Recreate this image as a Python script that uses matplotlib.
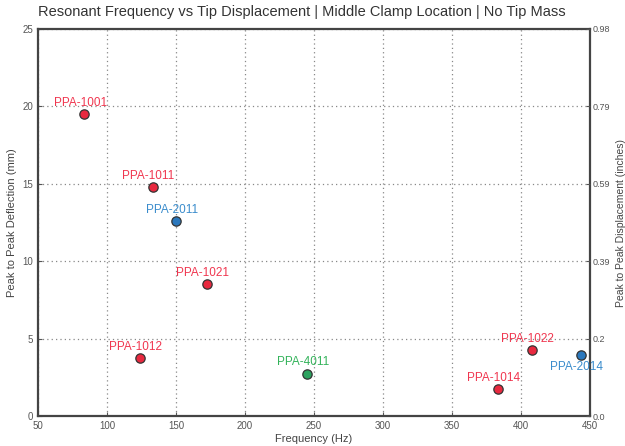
import matplotlib.pyplot as plt
from matplotlib.ticker import FixedLocator, FixedFormatter

names = ["PPA-1001", "PPA-1011", "PPA-2011", "PPA-1021", "PPA-1012",
         "PPA-4011", "PPA-1014", "PPA-1022", "PPA-2014"]
freq = [83.5, 133, 150, 172.5, 123.5, 245, 383, 408, 443.5]
defl = [19.5, 14.8, 12.6, 8.5, 3.75, 2.75, 1.75, 4.25, 3.95]
family = ["1", "1", "2", "1", "1", "4", "1", "1", "2"]

face = {"1": "#e8293f", "2": "#2b78bd", "4": "#2ca25f"}
text_col = {"1": "#f0364f", "2": "#3a8ccc", "4": "#33b35a"}

plt.rcParams['font.family'] = ['Liberation Sans', 'DejaVu Sans']

fig = plt.figure(figsize=(6.25, 4.46), dpi=100)
ax = fig.add_axes([0.061, 0.067, 0.883, 0.868])

for n, f, d, fam in zip(names, freq, defl, family):
    ax.scatter(f, d, s=45, color=face[fam], edgecolor="#333333", linewidth=0.9, zorder=3)
    dy = -9 if n == "PPA-2014" else 8
    ax.annotate(n, (f, d), xytext=(-3, dy), textcoords="offset points",
                ha="center", va="center", color=text_col[fam], fontsize=8.5)

ax.set_xlim(50, 450)
ax.set_ylim(0, 25)
ax.set_xticks(range(50, 451, 50))
ax.set_yticks(range(0, 26, 5))
ax.grid(True, linestyle=(0, (1, 2.5)), color="#888888", linewidth=0.9)
ax.tick_params(labelsize=7, colors="#555555", length=3, direction="in")
for s in ax.spines.values():
    s.set_color("#444444")
    s.set_linewidth(1.6)
ax.set_xlabel("Frequency (Hz)", fontsize=8, color="#444444", labelpad=2)
fig.text(0.02, 0.50, "Peak to Peak Deflection (mm)", rotation=90,
         fontsize=8, color="#444444", ha="center", va="center")

mm_ticks = list(range(0, 26, 5))
inch_labels = [str(round(v / 25.4, 2)) for v in mm_ticks]
ax2 = ax.twinx()
ax2.set_ylim(0, 25)
ax2.yaxis.set_major_locator(FixedLocator(mm_ticks))
ax2.yaxis.set_major_formatter(FixedFormatter(inch_labels))
ax2.tick_params(labelsize=6.5, colors="#555555", length=3, direction="in", pad=2)
for s in ax2.spines.values():
    s.set_visible(False)
fig.text(0.994, 0.50, "Peak to Peak Displacement (inches)", rotation=90,
         fontsize=7.5, color="#444444", ha="center", va="center")

fig.text(0.061, 0.958, "Resonant Frequency vs Tip Displacement | Middle Clamp Location | No Tip Mass",
         fontsize=10.5, color="#333333", ha="left", va="bottom")

fig.savefig("out.png", dpi=100)
